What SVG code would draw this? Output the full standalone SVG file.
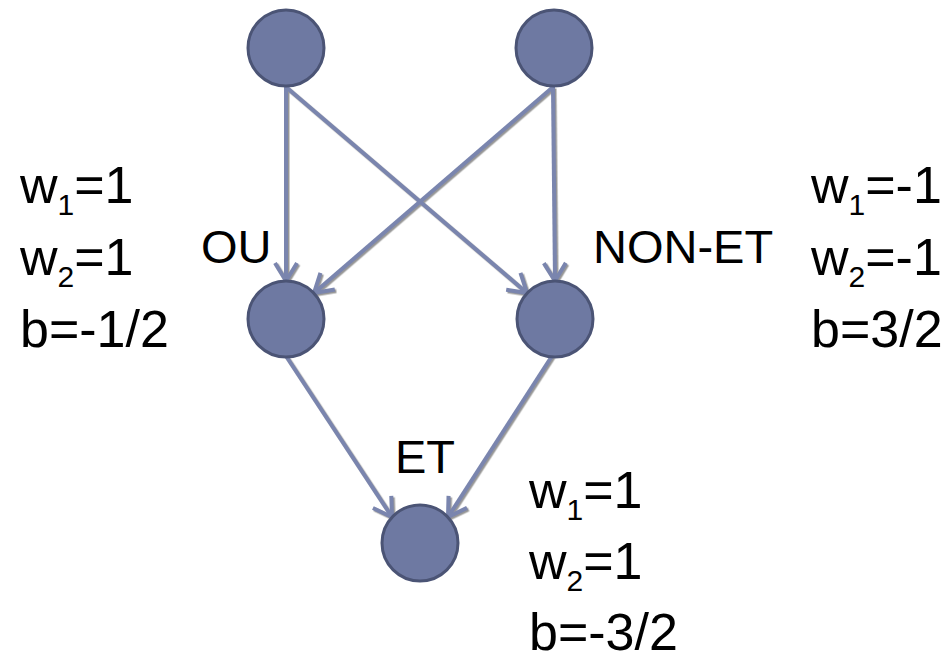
<svg xmlns="http://www.w3.org/2000/svg" width="952" height="660" viewBox="0 0 952 660">
  <style>
    .node { fill: #6e79a2; stroke: #4b5475; stroke-width: 3; }
    .edge { fill: none; stroke: #7a85ae; stroke-width: 4; marker-end: url(#arrow); }
    .lbl { font-family: "Liberation Sans", Arial, sans-serif; font-size: 47px; fill: #000; }
    .wt { font-family: "Liberation Sans", Arial, sans-serif; font-size: 52px; fill: #000; }
    .sub { font-size: 30px; }
  </style>
  <defs>
    <marker id="arrow" markerUnits="userSpaceOnUse" orient="auto" markerWidth="30" markerHeight="30" viewBox="-22 -15 30 30" refX="0" refY="0" overflow="visible">
      <path d="M -18 -11 L 0 0 L -18 11" fill="none" stroke="#7a85ae" stroke-width="4" stroke-linejoin="miter"/>
    </marker>
    <filter id="shadow" x="-10%" y="-10%" width="120%" height="120%">
      <feDropShadow dx="1.5" dy="1.5" stdDeviation="0.6" flood-color="#8a8a8a" flood-opacity="0.9"/>
    </filter>
  </defs>

  <rect width="952" height="660" fill="#ffffff"/>

  <!-- connectors -->
  <g id="connectors" filter="url(#shadow)">
    <line class="edge" x1="286" y1="87" x2="286" y2="281"/>
    <line class="edge" x1="286" y1="87" x2="527" y2="293"/>
    <line class="edge" x1="553" y1="87" x2="314" y2="293"/>
    <line class="edge" x1="553" y1="87" x2="555" y2="281"/>
    <line class="edge" x1="286" y1="356" x2="392" y2="517"/>
    <line class="edge" x1="552" y1="356" x2="448" y2="517"/>
  </g>

  <!-- input layer -->
  <g id="in1"><circle class="node" cx="286" cy="48" r="38"/></g>
  <g id="in2"><circle class="node" cx="554" cy="48" r="38"/></g>

  <!-- hidden layer -->
  <g id="ou">
    <circle class="node" cx="286" cy="319" r="38"/>
    <text class="lbl" x="201" y="263">OU</text>
  </g>
  <g id="non-et">
    <circle class="node" cx="555" cy="319" r="38"/>
    <text class="lbl" x="593" y="263">NON-ET</text>
  </g>

  <!-- output -->
  <g id="et">
    <circle class="node" cx="420" cy="543" r="38"/>
    <text class="lbl" x="395" y="473">ET</text>
  </g>

  <!-- weights -->
  <g id="weights-ou" class="wt">
    <text x="20" y="203">w<tspan class="sub" dy="12">1</tspan><tspan dy="-12">=1</tspan></text>
    <text x="20" y="275">w<tspan class="sub" dy="12">2</tspan><tspan dy="-12">=1</tspan></text>
    <text x="20" y="347">b=-1/2</text>
  </g>
  <g id="weights-non-et" class="wt">
    <text x="811" y="203">w<tspan class="sub" dy="12">1</tspan><tspan dy="-12">=-1</tspan></text>
    <text x="811" y="275">w<tspan class="sub" dy="12">2</tspan><tspan dy="-12">=-1</tspan></text>
    <text x="811" y="347">b=3/2</text>
  </g>
  <g id="weights-et" class="wt">
    <text x="529" y="508">w<tspan class="sub" dy="12">1</tspan><tspan dy="-12">=1</tspan></text>
    <text x="529" y="579">w<tspan class="sub" dy="12">2</tspan><tspan dy="-12">=1</tspan></text>
    <text x="529" y="650">b=-3/2</text>
  </g>
</svg>
